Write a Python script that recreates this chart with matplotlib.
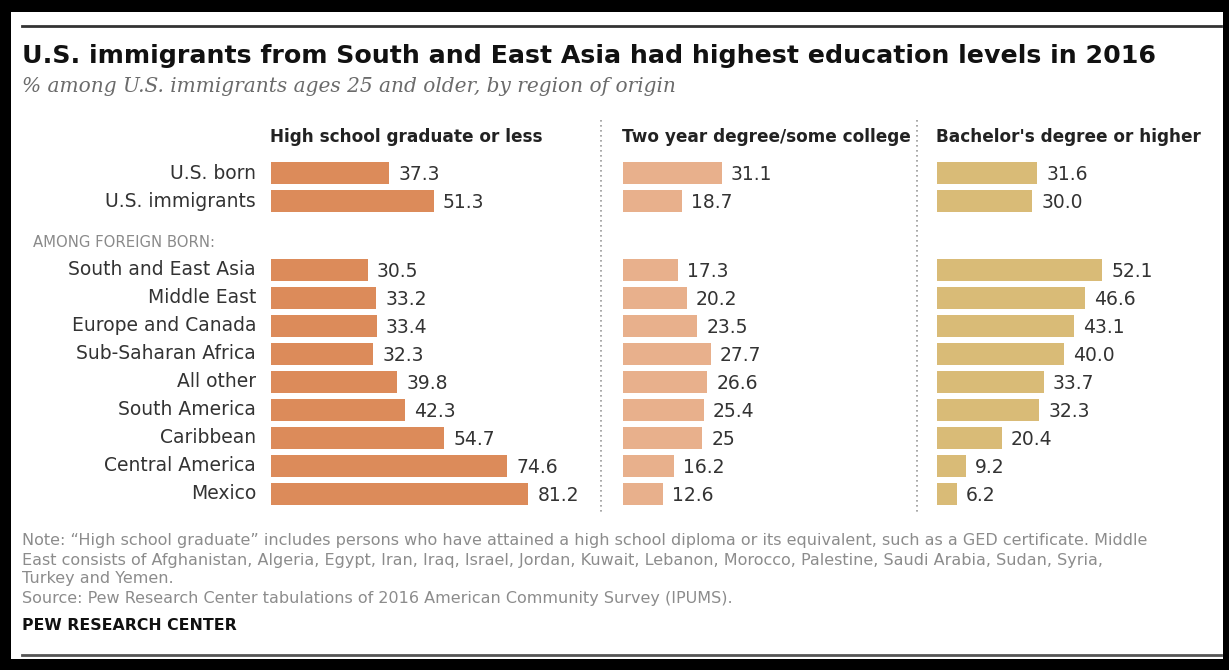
import matplotlib
matplotlib.use("Agg")
import matplotlib.pyplot as plt
from matplotlib.patches import Rectangle
from matplotlib.lines import Line2D

# ---- data -------------------------------------------------------------
categories = [
    "U.S. born", "U.S. immigrants",
    "South and East Asia", "Middle East", "Europe and Canada",
    "Sub-Saharan Africa", "All other", "South America", "Caribbean",
    "Central America", "Mexico",
]
hs_or_less = ["37.3", "51.3", "30.5", "33.2", "33.4", "32.3", "39.8",
              "42.3", "54.7", "74.6", "81.2"]
some_college = ["31.1", "18.7", "17.3", "20.2", "23.5", "27.7", "26.6",
                "25.4", "25", "16.2", "12.6"]
bachelors = ["31.6", "30.0", "52.1", "46.6", "43.1", "40.0", "33.7",
             "32.3", "20.4", "9.2", "6.2"]
panel_titles = ["High school graduate or less",
                "Two year degree/some college",
                "Bachelor's degree or higher"]
panel_colors = ["#DC8B5A", "#E8B08C", "#D9BB77"]

title = "U.S. immigrants from South and East Asia had highest education levels in 2016"
subtitle = "% among U.S. immigrants ages 25 and older, by region of origin"
group_label = "AMONG FOREIGN BORN:"
note_lines = [
    "Note: \u201cHigh school graduate\u201d includes persons who have attained a high school diploma or its equivalent, such as a GED certificate. Middle",
    "East consists of Afghanistan, Algeria, Egypt, Iran, Iraq, Israel, Jordan, Kuwait, Lebanon, Morocco, Palestine, Saudi Arabia, Sudan, Syria,",
    "Turkey and Yemen.",
    "Source: Pew Research Center tabulations of 2016 American Community Survey (IPUMS).",
]
credit = "PEW RESEARCH CENTER"

# ---- layout -----------------------------------------------------------
W, H = 1229, 670
fig = plt.figure(figsize=(W / 100, H / 100), dpi=100)
fig.patch.set_facecolor("white")


def fx(px):
    return px / W


def fy(py):
    return 1 - py / H


n_top = 2
group_gap = 2.46
rows = [float(i) for i in range(n_top)] + [
    n_top - 1 + group_gap + k for k in range(len(categories) - n_top)
]
row_px = 28.0            # pixel pitch of one row
first_row_px = 173.0     # centre of first row
px_per_unit = 3.17       # horizontal scale shared by all panels
ax_top_px = first_row_px - 0.5 * row_px
ax_h_px = (rows[-1] + 1.0) * row_px
x_units = 90.0
panel_left_px = [271, 623, 937]

text_dark = "#333333"
sans = ["DejaVu Sans"]

series = [hs_or_less, some_college, bachelors]
for left_px, labels, color, head in zip(panel_left_px, series,
                                        panel_colors, panel_titles):
    vals = [float(s) for s in labels]
    ax = fig.add_axes([fx(left_px), fy(ax_top_px + ax_h_px),
                       fx(x_units * px_per_unit), ax_h_px / H])
    ax.barh(rows, vals, height=0.78, color=color, edgecolor="none")
    ax.set_xlim(0, x_units)
    ax.set_ylim(rows[-1] + 0.5, -0.5)
    ax.axis("off")
    for r, v, s in zip(rows, vals, labels):
        ax.annotate(s, (v, r), xytext=(6.5, -1), textcoords="offset points",
                    ha="left", va="center", fontsize=13.5,
                    color=text_dark, family=sans, annotation_clip=False)
    fig.text(fx(left_px - 1), fy(137), head, ha="left", va="center",
             fontsize=12.2, fontweight="bold", color="#222222", family=sans)

# category labels
for r, cat in zip(rows, categories):
    fig.text(fx(256), fy(first_row_px + r * row_px), cat, ha="right",
             va="center", fontsize=13.5, color=text_dark, family=sans)
fig.text(fx(33), fy(242), group_label, ha="left", va="center",
         fontsize=10.7, color="#8a8a8a", family=sans)

# dotted separators between panels
for sx in (601, 917):
    fig.add_artist(Line2D([fx(sx), fx(sx)], [fy(120), fy(512)],
                          transform=fig.transFigure, color="#9a9a9a",
                          linestyle=(0, (1, 2)), linewidth=1.2))

# titles
fig.text(fx(22), fy(56), title, ha="left", va="center", fontsize=18.2,
         fontweight="bold", color="#111111", family=sans)
fig.text(fx(22), fy(87), subtitle, ha="left", va="center", fontsize=14.5,
         style="italic", color="#6b6b6b", family=["DejaVu Serif"])

# notes
for i, line in enumerate(note_lines):
    fig.text(fx(22), fy(541 + i * 19), line, ha="left", va="center",
             fontsize=11.5, color="#8c8c8c", family=sans)
fig.text(fx(22), fy(626), credit, ha="left", va="center", fontsize=11.3,
         fontweight="bold", color="#111111", family=sans)

# rules and outer frame
for ry, lw, c in ((26, 2.0, "#333333"), (655, 2.0, "#555555")):
    fig.add_artist(Line2D([fx(22), fx(1221)], [fy(ry), fy(ry)],
                          transform=fig.transFigure, color=c, linewidth=lw))
frame = [(0, 0, W, 12), (0, 0, 11, H), (1223, 0, 6, H), (0, 659, W, 11)]
for x0, y0, w, h in frame:
    fig.add_artist(Rectangle((fx(x0), fy(y0 + h)), fx(w), h / H,
                             transform=fig.transFigure, color="black",
                             linewidth=0))

fig.savefig("out.png", dpi=100)
